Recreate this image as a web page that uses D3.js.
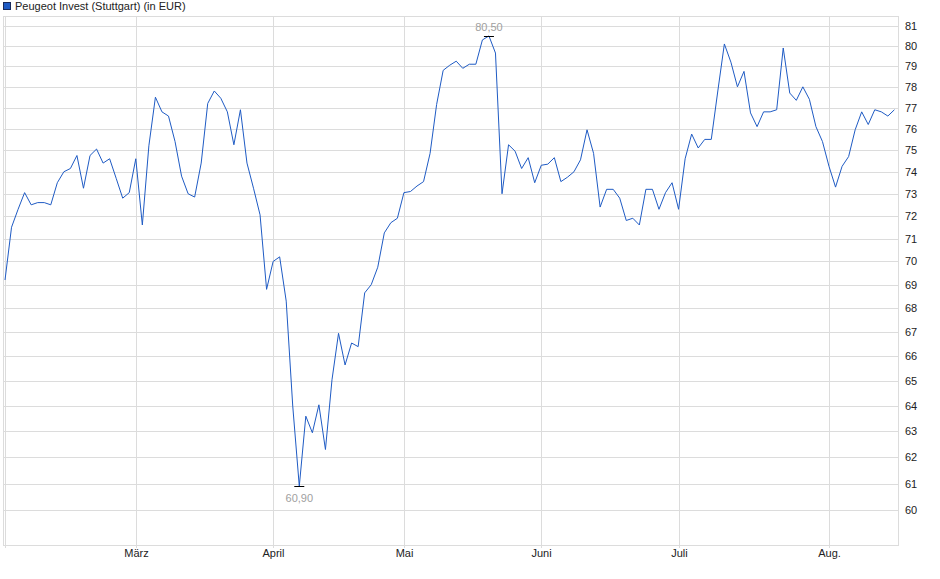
<!DOCTYPE html>
<html><head><meta charset="utf-8">
<script src="https://cdn.jsdelivr.net/npm/d3@7/dist/d3.min.js"></script>
<style>body{margin:0;background:#fff}svg{display:block;font-family:"Liberation Sans",Arial,sans-serif}</style>
</head><body><div id="c"></div>
<script>
const title = "Peugeot Invest (Stuttgart) (in EUR)";
const prices = [69.2,71.5,72.3,73.05,72.5,72.6,72.6,72.5,73.5,74.0,74.15,74.75,73.25,74.75,75.05,74.4,74.6,73.7,72.8,73.05,
74.6,71.6,75.2,77.5,76.8,76.6,75.4,73.8,73.0,72.85,74.4,77.2,77.8,77.45,76.8,75.25,76.9,74.4,73.25,72.05,68.8,
70.0,70.2,68.3,64.0,60.9,63.6,62.95,64.05,62.3,65.05,66.95,65.65,66.55,66.4,68.65,69.0,69.75,71.25,71.7,71.9,
73.05,73.1,73.35,73.55,74.85,77.15,78.8,79.05,79.25,78.9,79.1,79.1,80.3,80.5,79.65,73.0,75.25,74.95,74.15,74.65,73.5,
74.3,74.35,74.65,73.55,73.75,74.0,74.55,75.95,74.85,72.4,73.2,73.2,72.8,71.8,71.9,71.6,73.2,73.2,72.3,73.05,73.5,
72.3,74.6,75.75,75.1,75.5,75.5,77.8,80.1,79.2,78.0,78.75,76.75,76.1,76.8,76.8,76.9,79.9,77.7,77.35,78.0,77.4,76.1,75.4,
74.25,73.3,74.25,74.7,75.95,76.8,76.2,76.9,76.8,76.6,76.9];
const monthIdx = [0,20,41,61,82,103,126];
const monthLabels = ["","März","April","Mai","Juni","Juli","Aug."];
const yTicks = [60,61,62,63,64,65,66,67,68,69,70,71,72,73,74,75,76,77,78,79,80,81];

const W=940,H=579, L=3, R=898.5, T=16, B=545;
const svg=d3.select("#c").append("svg").attr("width",W).attr("height",H);
const x=d3.scaleLinear().domain([0,136]).range([5,894.4]);
const y=d3.scaleLog().domain([58.72,81.5]).range([B,T]);
const fmt=v=>v.toFixed(2).replace(".",",");

// legend
svg.append("rect").attr("x",3.5).attr("y",2.5).attr("width",7).attr("height",7).attr("fill","#1f5bc4").attr("stroke","#1a2a5a");
svg.append("text").attr("x",15).attr("y",10).attr("font-size",11).attr("fill","#222").text(title);

// grid
const g=svg.append("g");
g.selectAll("line.h").data(yTicks).join("line").attr("x1",L).attr("x2",R)
 .attr("y1",d=>Math.round(y(d))+0.5).attr("y2",d=>Math.round(y(d))+0.5).attr("stroke","#dcdcdc");
g.selectAll("line.v").data(monthIdx).join("line")
 .attr("x1",d=>Math.round(x(d))+0.5).attr("x2",d=>Math.round(x(d))+0.5).attr("y1",T).attr("y2",B+3).attr("stroke","#dcdcdc");
// frame
svg.append("rect").attr("x",L+0.5).attr("y",T+0.5).attr("width",R-L-0.5).attr("height",B-T).attr("fill","none").attr("stroke","#dcdcdc");

// y labels
svg.selectAll("text.yl").data(yTicks).join("text").attr("x",905).attr("y",d=>y(d)+4)
 .attr("font-size",11).attr("fill","#222").text(d=>d);
// x labels
svg.selectAll("text.xl").data(monthIdx.map((d,i)=>({i:d,l:monthLabels[i]}))).join("text")
 .attr("x",d=>Math.round(x(d.i))+0.5).attr("y",557).attr("text-anchor","middle").attr("font-size",11).attr("fill","#222").text(d=>d.l);

// line
const line=d3.line().x((d,i)=>x(i)).y(d=>y(d));
svg.append("path").datum(prices).attr("d",line).attr("fill","none").attr("stroke","#1f5bc4").attr("stroke-width",1);

// min/max markers
const maxI=d3.maxIndex(prices), minI=d3.minIndex(prices);
[[maxI,-1],[minI,1]].forEach(([i,s])=>{
  const px=x(i), py=Math.round(y(prices[i]))+0.5;
  svg.append("line").attr("x1",px-5).attr("x2",px+5).attr("y1",py).attr("y2",py).attr("stroke","#000");
  svg.append("text").attr("x",px).attr("y",s<0?py-6:py+15).attr("text-anchor","middle")
   .attr("font-size",11).attr("fill","#a0a0a0").text(fmt(prices[i]));
});
</script></body></html>
